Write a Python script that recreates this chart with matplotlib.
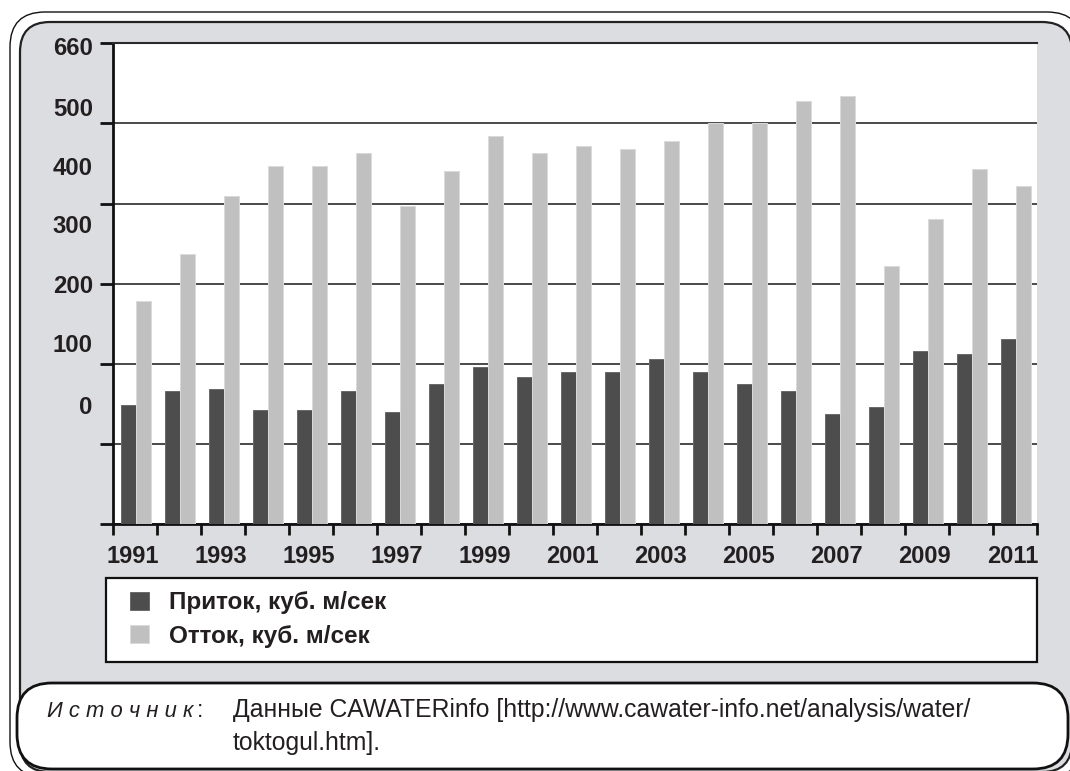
import matplotlib
matplotlib.use("Agg")
import matplotlib.pyplot as plt
from matplotlib.patches import FancyBboxPatch, Rectangle
import numpy as np

# ---- data ----
years = list(range(1991, 2012))
inflow = [164, 182, 185, 157, 157, 182, 154, 192, 216, 202, 209,
          209, 227, 209, 192, 182, 151, 161, 237, 233, 254]
outflow = [306, 371, 450, 492, 492, 509, 436, 485, 533, 509, 519,
           515, 526, 550, 550, 581, 588, 354, 419, 488, 464]
series_names = ["Приток, куб. м/сек", "Отток, куб. м/сек"]

y_max = 660
grid_values = [0, 110, 220, 330, 440, 550, 660]
y_tick_labels = ["660", "500", "400", "300", "200", "100", "0"]
y_label_pos = [656, 572, 492, 412, 329, 248, 164]
x_label_years = [y for y in years if y % 2 == 1]

source_lead = "И с т о ч н и к"
source_line1 = "Данные CAWATERinfo [http://www.cawater-info.net/analysis/water/"
source_line2 = "toktogul.htm]."

# ---- style ----
DARK = "#4d4d4d"
LIGHT = "#c0c0c0"
PANEL = "#dcdde0"
TXT = "#231f20"
plt.rcParams["font.family"] = ["Liberation Sans", "DejaVu Sans"]

W, H = 1070, 771
fig = plt.figure(figsize=(W / 100, H / 100), dpi=100)
fig.patch.set_facecolor("white")

# background decoration layer in pixel coordinates
bg = fig.add_axes([0, 0, 1, 1], zorder=-1)
bg.set_xlim(0, W)
bg.set_ylim(H, 0)
bg.axis("off")

outer = FancyBboxPatch((10, 12), 1082 - 10, 777 - 12,
                       boxstyle="round,pad=0,rounding_size=35",
                       fc="white", ec="#111111", lw=1.0)
inner = FancyBboxPatch((20, 22), 1072 - 20, 772 - 22,
                       boxstyle="round,pad=0,rounding_size=30",
                       fc=PANEL, ec="#222222", lw=1.6)
bg.add_patch(outer)
bg.add_patch(inner)

# legend frame
bg.add_patch(Rectangle((106, 578), 931, 84, fc="white", ec="#111111", lw=1.6))

# source note box
src = FancyBboxPatch((17, 683), 1068 - 17, 769 - 683,
                     boxstyle="round,pad=0,rounding_size=35",
                     fc="white", ec="#111111", lw=2.0)
bg.add_patch(src)
bg.text(47, 717, source_lead, fontsize=15.8, style="italic", color=TXT,
        ha="left", va="baseline")
bg.text(197, 717, ":", fontsize=16.5, color=TXT, ha="left", va="baseline")
bg.text(233, 717, source_line1, fontsize=17.8, color=TXT,
        ha="left", va="baseline")
bg.text(233, 750, source_line2, fontsize=17.8, color=TXT,
        ha="left", va="baseline")

# ---- main chart ----
ax = fig.add_axes([113 / W, 1 - 524 / H, 924 / W, (524 - 43.3) / H], zorder=1)
ax.set_facecolor("white")

x = np.arange(len(years))
bw = 0.34
b1 = ax.bar(x - 0.155, inflow, width=bw, color=DARK, edgecolor="#6a6a6a",
            linewidth=0.7, zorder=3, label=series_names[0])
b2 = ax.bar(x + 0.185, outflow, width=bw, color=LIGHT, edgecolor="#dadada",
            linewidth=0.7, zorder=3, label=series_names[1])

ax.set_xlim(-0.5, len(years) - 0.5)
ax.set_ylim(0, y_max)

# gridlines and outward tick marks at the grid values
ax.set_yticks(grid_values, minor=True)
ax.yaxis.grid(True, which="minor", color="#3c3c3c", lw=1.3, zorder=1)
ax.tick_params(axis="y", which="minor", length=9.5, width=2, color="#111111",
               direction="out")
# value labels
ax.set_yticks(y_label_pos)
ax.set_yticklabels(y_tick_labels, fontsize=17.2, fontweight="bold", color=TXT)
ax.tick_params(axis="y", which="major", length=0, pad=14.5)

# x axis: boundary ticks + centred year labels
ax.set_xticks(np.arange(-0.5, len(years), 1.0), minor=True)
ax.tick_params(axis="x", which="minor", length=8, width=2, color="#111111",
               direction="out")
ax.set_xticks([years.index(y) - 0.06 for y in x_label_years])
ax.set_xticklabels([str(y) for y in x_label_years], fontsize=17,
                   fontweight="bold", color=TXT)
ax.tick_params(axis="x", which="major", length=0, pad=15)

ax.spines["right"].set_visible(False)
ax.spines["top"].set_color("#2a2a2a")
ax.spines["top"].set_linewidth(1.5)
ax.spines["left"].set_linewidth(2)
ax.spines["bottom"].set_linewidth(2)
ax.spines["left"].set_color("#111111")
ax.spines["bottom"].set_color("#111111")

fig.legend(handles=[b1, b2], labels=series_names, loc="center left",
           bbox_to_anchor=(130 / W, 1 - 619.5 / H), frameon=False,
           borderpad=0, borderaxespad=0, handlelength=0.8, handleheight=0.8,
           handletextpad=0.8, labelspacing=0.42,
           prop={"size": 17.5, "weight": "bold"}, labelcolor=TXT)

fig.savefig("out.png", dpi=100)
